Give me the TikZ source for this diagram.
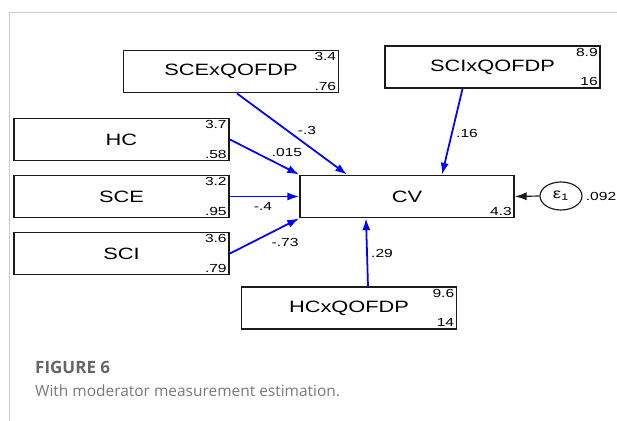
\documentclass[tikz,border=0pt]{standalone}
\usepackage{fontspec}
\setmainfont{Liberation Sans}
\newfontfamily\capfont{Open Sans}
\usepackage{tikz}
\usetikzlibrary{arrows.meta, shapes.geometric}
\definecolor{my_blue}{HTML}{0000FF}
\definecolor{my_black}{HTML}{1A1A1A}
\definecolor{my_frame}{HTML}{CBCBCB}
\definecolor{my_capdark}{HTML}{666666}
\definecolor{my_caplight}{HTML}{787878}
%% text in the figure is stretched sideways
\newcommand{\wide}[1]{\scalebox{1.33}[1]{#1}}

\begin{document}
\begin{tikzpicture}[
    x=0.03cm, y=-0.03cm,
    varbox/.style={draw=my_black, line width=1.6pt, fill=white,
        minimum width=6.45cm, minimum height=1.26cm, inner sep=0pt,
        font=\fontsize{14}{16}\selectfont},
    num/.style={inner xsep=2.6pt, inner ysep=2.4pt, font=\fontsize{10}{11}\selectfont},
    coef/.style={inner sep=0pt, font=\fontsize{10}{11}\selectfont},
    path/.style={draw=my_blue, line width=1.5pt, -{Latex[length=10pt, width=7pt]}},
    errpath/.style={draw=my_black, line width=1pt, -{Latex[length=10pt, width=7pt]}}
]
\useasboundingbox (0,0) rectangle (617,421);

%% ---- Rahmen ----
\draw[my_frame, line width=0.8pt] (9,421) -- (9,12) -- (617,12);

%% ---- Variablen ----
\node[varbox] (sceq) at (231,71.5) {\wide{SCExQOFDP}};
\node[varbox] (sciq) at (492.5,67) {\wide{SCIxQOFDP}};
\node[varbox] (hc)   at (121.5,139.5) {\wide{HC}};
\node[varbox] (sce)  at (121.5,196.5) {\wide{SCE}};
\node[varbox] (sci)  at (121.5,253.5) {\wide{SCI}};
\node[varbox, minimum width=6.42cm] (cv) at (407,196.5) {\wide{CV}};
\node[varbox] (hcq)  at (349,308) {\wide{HCxQOFDP}};
\node[ellipse, draw=my_black, line width=1pt, minimum width=1.26cm,
      minimum height=0.84cm, inner sep=0pt, font=\fontsize{12}{14}\selectfont]
    (eps) at (561,196) {\wide{ε\textsubscript{1}}};

%% ---- Mittelwerte / Varianzen ----
\node[num, anchor=north east] (sceq_m) at (sceq.north east) {\wide{3.4}};
\node[num, anchor=south east] (sceq_v) at (sceq.south east) {\wide{.76}};
\node[num, anchor=north east] (sciq_m) at (sciq.north east) {\wide{8.9}};
\node[num, anchor=south east] (sciq_v) at (sciq.south east) {\wide{16}};
\node[num, anchor=north east] (hc_m) at (hc.north east) {\wide{3.7}};
\node[num, anchor=south east] (hc_v) at (hc.south east) {\wide{.58}};
\node[num, anchor=north east] (sce_m) at (sce.north east) {\wide{3.2}};
\node[num, anchor=south east] (sce_v) at (sce.south east) {\wide{.95}};
\node[num, anchor=north east] (sci_m) at (sci.north east) {\wide{3.6}};
\node[num, anchor=south east] (sci_v) at (sci.south east) {\wide{.79}};
\node[num, anchor=south east] (cv_c) at (cv.south east) {\wide{4.3}};
\node[num, anchor=north east] (hcq_m) at (hcq.north east) {\wide{9.6}};
\node[num, anchor=south east] (hcq_v) at (hcq.south east) {\wide{14}};
\node[num, anchor=west] (eps_v) at (eps.east) {\wide{.092}};

%% ---- Pfade ----
\draw[path] ([xshift=0.18cm]sceq.south) -- ([xshift=-1.8cm]cv.north);
\draw[path] ([xshift=-0.9cm]sciq.south) -- ([xshift=1.05cm]cv.north);
\draw[path] (hc.east) -- (cv.north west);
\draw[path] (sce.east) -- (cv.west);
\draw[path] (sci.east) -- (cv.south west);
\draw[path] ([xshift=0.57cm]hcq.north) -- ([xshift=-1.23cm]cv.south);
\draw[errpath] (eps.west) -- (cv.east);

%% ---- Koeffizienten ----
\node[coef] (c_sceq) at (307,130) {\wide{-.3}};
\node[coef] (c_sciq) at (467,133) {\wide{.16}};
\node[coef] (c_hc)   at (287,152) {\wide{.015}};
\node[coef] (c_sce)  at (263,206) {\wide{-.4}};
\node[coef] (c_sci)  at (285,242) {\wide{-.73}};
\node[coef] (c_hcq)  at (382,253) {\wide{.29}};

%% ---- Bildunterschrift ----
\node[anchor=base west, inner sep=0pt, text=my_capdark,
      font=\capfont\bfseries\fontsize{14.5}{16}\selectfont]
    (fig) at (35,373) {FIGURE 6};
\node[anchor=base west, inner sep=0pt, text=my_caplight,
      font=\capfont\fontsize{13.2}{16}\selectfont]
    (cap) at (35,396) {With moderator measurement estimation.};

\end{tikzpicture}
\end{document}
